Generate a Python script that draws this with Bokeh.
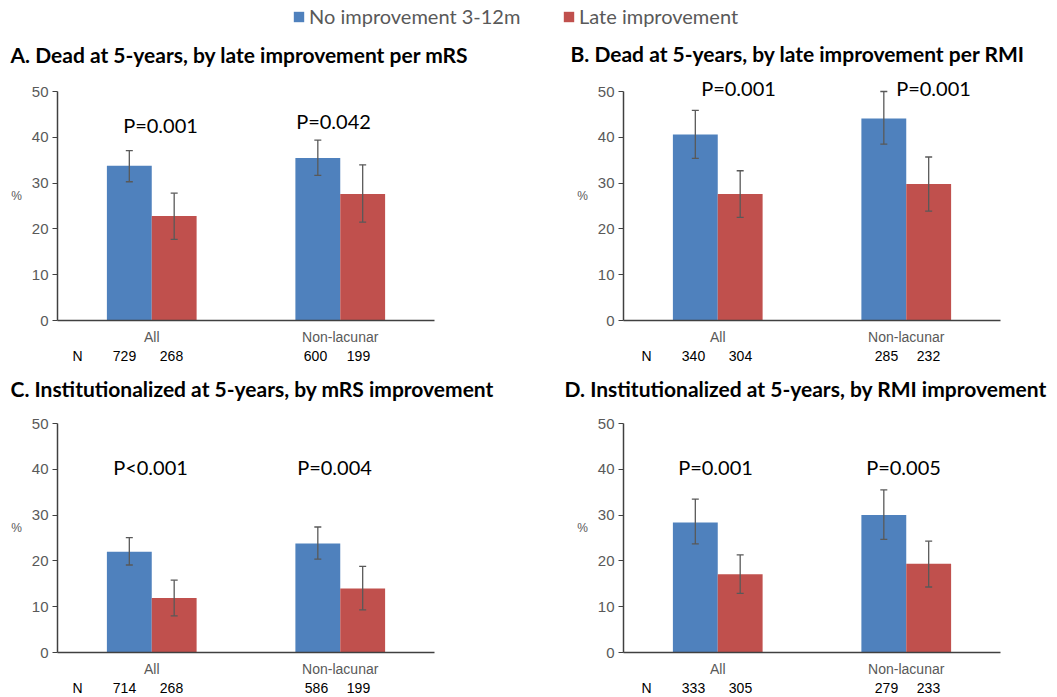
from bokeh.plotting import figure
from bokeh.models import (Range1d, FactorRange, ColumnDataSource, Whisker, TeeHead,
                          Label, Legend, LegendItem)
from bokeh.transform import dodge
from bokeh.layouts import column, row
from bokeh.embed import file_html
from bokeh.resources import INLINE

# ---------------- data ----------------
categories = ["All", "Non-lacunar"]
series_names = ["No improvement 3-12m", "Late improvement"]

titles = [
    "A. Dead at 5-years, by late improvement per mRS",
    "B. Dead at 5-years, by late improvement per RMI",
    "C. Institutionalized at 5-years, by mRS improvement",
    "D. Institutionalized at 5-years, by RMI improvement",
]

# Panel A
a_no = [33.8, 35.5]
a_no_lo = [30.3, 31.7]
a_no_hi = [37.1, 39.4]
a_late = [22.8, 27.6]
a_late_lo = [17.7, 21.5]
a_late_hi = [27.8, 34.0]
a_p = ["P=0.001", "P=0.042"]
a_n_no = ["729", "600"]
a_n_late = ["268", "199"]

# Panel B
b_no = [40.6, 44.1]
b_no_lo = [35.4, 38.5]
b_no_hi = [45.9, 50.0]
b_late = [27.6, 29.8]
b_late_lo = [22.5, 23.9]
b_late_hi = [32.7, 35.7]
b_p = ["P=0.001", "P=0.001"]
b_n_no = ["340", "285"]
b_n_late = ["304", "232"]

# Panel C
c_no = [22.0, 23.8]
c_no_lo = [19.1, 20.4]
c_no_hi = [25.1, 27.4]
c_late = [11.9, 14.0]
c_late_lo = [8.0, 9.3]
c_late_hi = [15.8, 18.8]
c_p = ["P<0.001", "P=0.004"]
c_n_no = ["714", "586"]
c_n_late = ["268", "199"]

# Panel D
d_no = [28.4, 30.0]
d_no_lo = [23.7, 24.7]
d_no_hi = [33.5, 35.5]
d_late = [17.1, 19.4]
d_late_lo = [12.9, 14.3]
d_late_hi = [21.3, 24.3]
d_p = ["P=0.001", "P=0.005"]
d_n_no = ["333", "279"]
d_n_late = ["305", "233"]

y_ticks = [0, 10, 20, 30, 40, 50]
y_max = 50

# ---------------- styling ----------------
BLUE = "#4F81BD"
RED = "#C0504D"
GRAY = "#595959"
AXIS = "#404040"
BAR_W = 0.238
OFF = 0.119
W = 1057


def base_fig(**kw):
    return figure(output_backend="svg", toolbar_location=None, tools="", title=None, **kw)


def text_strip(height, top, texts, legends=()):
    """A figure used only to hold texts; its coordinates are page pixels."""
    s = base_fig(width=W, height=height, x_range=Range1d(0, W),
                 y_range=Range1d(0, height), min_border=0,
                 x_axis_type=None, y_axis_type=None)
    s.outline_line_color = None
    for (px, py, text, font, size, style, color, align) in texts:
        s.add_layout(Label(x=px, y=top + height - py, text=text, text_font=font,
                           text_font_size=size, text_font_style=style,
                           text_color=color, text_baseline="middle", text_align=align))
    for (gx, gy, name, color) in legends:
        # legend proxy: a single zero-height bar placed off the strip
        proxy = ColumnDataSource(dict(x=[-50], top=[0]))
        r = s.vbar(x="x", top="top", width=1, source=proxy,
                   fill_color=color, line_color=None)
        leg = Legend(items=[LegendItem(label=name, renderers=[r])],
                     location=(gx, top + height - gy - 10), orientation="horizontal",
                     padding=0, margin=0, spacing=0,
                     border_line_color=None, background_fill_alpha=0,
                     glyph_width=13, glyph_height=13, label_height=20,
                     label_standoff=4, label_text_font="Lato",
                     label_text_font_size="20px", label_text_color=GRAY)
        s.add_layout(leg)
    return s


def make_panel(no, no_lo, no_hi, late, late_lo, late_hi, pvals, fig, frame, y50, p_pos):
    # fig: (page_left, page_top, width, height); frame: (L, R, T, B) in page px
    fx, fy, fw, fh = fig
    L, R, T, B = frame
    k = y_max / (B - y50)  # data units per pixel

    def dx(px):
        return (px - L) / (R - L) * len(categories)

    def dy(py):
        return (B - py) * k

    p = base_fig(x_range=FactorRange(*categories), y_range=Range1d(0, (B - T) * k),
                 width=fw, height=fh,
                 min_border_left=L - fx, min_border_right=fx + fw - R,
                 min_border_top=T - fy, min_border_bottom=fy + fh - B)
    p.xgrid.visible = False
    p.ygrid.visible = False
    p.outline_line_color = None
    p.background_fill_color = "white"

    p.yaxis.ticker = y_ticks
    p.yaxis.bounds = (0, y_max)
    p.yaxis.major_tick_out = 5
    p.yaxis.major_tick_in = 0
    p.yaxis.minor_tick_line_color = None
    p.yaxis.major_tick_line_color = AXIS
    p.yaxis.axis_line_color = AXIS
    p.yaxis.axis_line_width = 1.5
    p.yaxis.major_label_text_color = GRAY
    p.yaxis.major_label_text_font = "Liberation Sans"
    p.yaxis.major_label_text_font_size = "15px"
    p.yaxis.major_label_standoff = 4
    p.yaxis.axis_label = "%"
    p.yaxis.axis_label_text_font = "Liberation Sans"
    p.yaxis.axis_label_text_font_size = "12px"
    p.yaxis.axis_label_text_font_style = "normal"
    p.yaxis.axis_label_text_color = GRAY
    p.yaxis.axis_label_standoff = 7
    if "axis_label_orientation" in p.yaxis[0].properties():
        p.yaxis.axis_label_orientation = "horizontal"

    p.xaxis.major_tick_line_color = None
    p.xaxis.minor_tick_line_color = None
    p.xaxis.axis_line_color = AXIS
    p.xaxis.axis_line_width = 1.5
    p.xaxis.major_label_text_color = GRAY
    p.xaxis.major_label_text_font = "Liberation Sans"
    p.xaxis.major_label_text_font_size = "14px"
    p.xaxis.major_label_standoff = 2

    src = ColumnDataSource(dict(cat=categories, no=no, no_lo=no_lo, no_hi=no_hi,
                                late=late, late_lo=late_lo, late_hi=late_hi))
    p.vbar(x=dodge("cat", -OFF, range=p.x_range), top="no", width=BAR_W,
           source=src, fill_color=BLUE, line_color=None)
    p.vbar(x=dodge("cat", OFF, range=p.x_range), top="late", width=BAR_W,
           source=src, fill_color=RED, line_color=None)

    for off, lo, hi in ((-OFF, "no_lo", "no_hi"), (OFF, "late_lo", "late_hi")):
        w = Whisker(base=dodge("cat", off, range=p.x_range), lower=lo, upper=hi,
                    source=src, dimension="height", level="overlay",
                    line_color=GRAY, line_width=1.3,
                    upper_head=TeeHead(size=7, line_color=GRAY, line_width=1.3),
                    lower_head=TeeHead(size=7, line_color=GRAY, line_width=1.3))
        p.add_layout(w)

    for (ppx, ppy), t in zip(p_pos, pvals):
        p.add_layout(Label(x=dx(ppx), y=dy(ppy), text=t, text_font="Lato",
                           text_font_size="20px", text_color="black",
                           text_baseline="middle", text_align="center"))
    return p


def n_texts(y, nx, pos, n_no, n_late):
    out = [(nx, y, "N", "Liberation Sans", "14px", "normal", "black", "center")]
    for i in range(len(categories)):
        out.append((pos[i][0], y, n_no[i], "Liberation Sans", "14px", "normal", "black", "center"))
        out.append((pos[i][1], y, n_late[i], "Liberation Sans", "14px", "normal", "black", "center"))
    return out


def title_text(x, y, t):
    return (x, y, t, "Lato", "21px", "bold", "black", "left")


# ---- vertical layout (page px) ----
# 0..70 legend + titles A/B | 70..347 panels A/B | 347..365 N | 365..402 titles C/D
# 402..679 panels C/D | 679..697 N
strip1 = text_strip(70, 0, [title_text(10, 54, titles[0]), title_text(570, 53, titles[1])],
                    legends=[(292, 18, series_names[0], BLUE),
                             (562, 18, series_names[1], RED)])

pA = make_panel(a_no, a_no_lo, a_no_hi, a_late, a_late_lo, a_late_hi, a_p,
                (0, 70, 530, 277), (57, 434, 70, 320), 91, [(160, 124), (333, 120)])
pB = make_panel(b_no, b_no_lo, b_no_hi, b_late, b_late_lo, b_late_hi, b_p,
                (530, 70, 527, 277), (623, 1000, 70, 320), 91, [(738, 87), (933, 87)])

strip2 = text_strip(18, 347, n_texts(355, 77, [(124, 171), (315, 358)], a_n_no, a_n_late)
                    + n_texts(355, 646, [(693, 740), (886, 928)], b_n_no, b_n_late))

strip3 = text_strip(37, 365, [title_text(10, 388, titles[2]), title_text(564, 388, titles[3])])

pC = make_panel(c_no, c_no_lo, c_no_hi, c_late, c_late_lo, c_late_hi, c_p,
                (0, 402, 530, 277), (57, 434, 402, 652), 423, [(150, 466), (334, 466)])
pD = make_panel(d_no, d_no_lo, d_no_hi, d_late, d_late_lo, d_late_hi, d_p,
                (530, 402, 527, 277), (623, 1000, 402, 652), 423, [(715, 466), (903, 466)])

strip4 = text_strip(18, 679, n_texts(687, 77, [(124, 171), (316, 358)], c_n_no, c_n_late)
                    + n_texts(687, 646, [(693, 740), (886, 928)], d_n_no, d_n_late))

layout = column(strip1, row(pA, pB), strip2, strip3, row(pC, pD), strip4)
open("out.html", "w").write(file_html(layout, INLINE))
